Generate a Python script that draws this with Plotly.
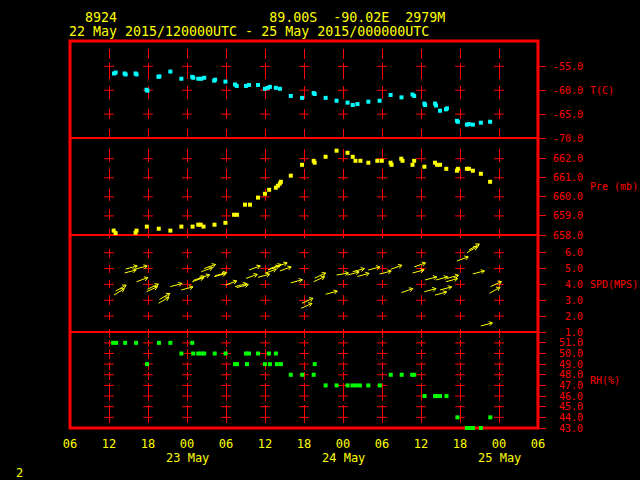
import math
import plotly.graph_objects as go

# ---------------- data (time = hours since 22 May 2015 00 UTC) ----------------
t_T = [12.77, 13.03, 14.40, 14.56, 16.09, 16.24, 17.77, 17.92, 19.61, 19.76, 21.44, 23.13,
       24.81, 24.96, 25.73, 26.19, 26.65, 28.18, 28.33, 29.91, 31.39, 31.65, 33.08, 33.54,
       34.92, 35.99, 36.45, 36.76, 37.67, 38.29, 39.97, 41.70, 43.49, 43.65, 45.33, 47.01,
       48.70, 49.50, 50.22, 51.90, 53.63, 55.32, 57.00, 58.69, 58.95, 60.52, 60.63, 62.16,
       62.31, 62.93, 63.84, 64.00, 65.53, 65.68, 67.06, 67.37, 67.98, 69.21, 70.63]
temp_C = [-56.5, -56.3, -56.5, -56.7, -56.5, -56.7, -59.9, -60.1, -57.2, -57.1, -56.1, -57.6,
          -57.2, -57.4, -57.6, -57.6, -57.4, -58.0, -57.8, -58.2, -58.8, -59.1, -59.1, -58.9,
          -58.9, -59.7, -59.5, -59.3, -59.5, -59.7, -61.2, -61.6, -60.6, -60.8, -61.6, -62.2,
          -62.6, -63.1, -62.9, -62.4, -62.2, -61.0, -61.5, -60.9, -61.2, -62.8, -63.1, -62.8,
          -63.2, -64.3, -64.0, -63.8, -66.4, -66.6, -67.2, -67.1, -67.2, -66.8, -66.6]

t_P = [12.72, 13.01, 14.45, 16.09, 16.24, 17.82, 19.65, 21.44, 23.13, 24.86, 25.73, 26.11,
       26.54, 28.23, 29.91, 31.24, 31.70, 32.92, 33.69, 34.92, 35.99, 36.64, 37.67, 37.98,
       38.28, 38.44, 39.97, 41.70, 43.49, 43.64, 45.32, 47.01, 48.70, 49.50, 49.92, 50.68,
       51.90, 53.28, 53.97, 55.32, 55.47, 56.96, 57.16, 58.69, 58.95, 60.52, 62.16, 62.47,
       62.93, 63.89, 65.53, 65.68, 67.06, 67.37, 67.98, 69.21, 70.63]
pres_mb = [658.23, 658.10, 657.96, 658.12, 658.23, 658.44, 658.33, 658.23, 658.44, 658.44,
           658.54, 658.54, 658.44, 658.54, 658.64, 659.06, 659.06, 659.59, 659.59, 659.96,
           660.16, 660.37, 660.48, 660.58, 660.69, 660.79, 661.11, 661.68, 661.89, 661.79,
           662.10, 662.42, 662.31, 662.10, 661.89, 661.89, 661.79, 661.89, 661.89, 661.79,
           661.68, 662.00, 661.89, 661.68, 661.89, 661.58, 661.79, 661.68, 661.68, 661.47,
           661.37, 661.47, 661.47, 661.47, 661.37, 661.21, 660.79]

t_W = [12.77, 13.03, 14.40, 14.56, 16.09, 16.24, 17.77, 17.92, 19.61, 19.76, 21.44, 23.13,
       24.81, 24.96, 25.73, 26.19, 26.65, 28.18, 28.33, 29.91, 31.39, 31.65, 33.08, 33.54,
       34.92, 35.99, 36.45, 36.76, 37.67, 38.29, 39.97, 41.55, 41.70, 43.49, 43.65, 45.33,
       47.01, 48.70, 49.50, 50.22, 51.90, 53.63, 55.32, 57.00, 58.69, 58.95, 60.52, 60.63,
       62.16, 62.31, 62.93, 63.84, 64.00, 65.53, 67.06, 67.37, 67.98, 69.21, 70.55, 70.70]
spd_mps = [3.33, 3.58, 4.72, 4.97, 4.97, 4.17, 3.54, 3.70, 2.81, 3.05, 3.86, 3.65,
           4.17, 4.25, 4.35, 4.80, 5.00, 4.49, 4.55, 3.96, 3.86, 3.80, 4.38, 4.91,
           4.45, 4.70, 4.91, 5.00, 5.10, 4.85, 4.10, 2.49, 2.81, 4.17, 4.40, 3.38,
           4.59, 4.59, 4.80, 4.50, 4.91, 4.65, 4.95, 3.48, 4.72, 5.10, 3.54, 4.28,
           3.33, 4.28, 3.65, 4.17, 4.38, 5.48, 6.00, 6.17, 4.66, 1.38, 3.44, 3.86]
wdir_deg = [238, 240, 255, 255, 255, 250, 245, 245, 240, 240, 255, 255,
            250, 250, 250, 250, 250, 255, 255, 250, 255, 255, 250, 250,
            255, 250, 250, 250, 250, 250, 255, 245, 245, 245, 245, 255,
            260, 255, 255, 255, 255, 255, 250, 250, 255, 250, 255, 255,
            255, 255, 255, 255, 255, 250, 240, 240, 255, 255, 240, 245]

t_RH = [12.64, 13.10, 14.48, 16.16, 17.85, 19.68, 21.44, 23.13, 24.81, 24.96, 25.73, 26.19,
        26.65, 28.26, 29.94, 31.39, 31.70, 33.08, 33.23, 33.54, 34.92, 35.99, 36.60, 36.76,
        37.67, 37.83, 38.44, 39.97, 41.73, 43.49, 43.65, 45.33, 47.01, 48.70, 49.45, 49.99,
        50.60, 51.90, 53.66, 55.35, 57.03, 58.64, 58.95, 60.55, 62.16, 62.47, 62.93, 63.92,
        65.61, 67.06, 67.37, 67.98, 69.21, 70.66]
rh_pct = [51, 51, 51, 51, 49, 51, 51, 50, 51, 50, 50, 50,
          50, 50, 50, 49, 49, 50, 49, 50, 50, 49, 50, 49,
          50, 49, 49, 48, 48, 48, 49, 47, 47, 47, 47, 47,
          47, 47, 47, 48, 48, 48, 48, 46, 46, 46, 46, 46,
          44, 43, 43, 43, 43, 44]

x_ticks = [6, 12, 18, 24, 30, 36, 42, 48, 54, 60, 66, 72, 78]
x_ticklabels = ["06", "12", "18", "00", "06", "12", "18", "00", "06", "12", "18", "00", "06"]
date_ticks = [24, 48, 72]
date_labels = ["23 May", "24 May", "25 May"]
T_ticks = [-70, -65, -60, -55]
P_ticks = [658, 659, 660, 661, 662]
S_ticks = [1, 2, 3, 4, 5, 6]
RH_ticks = [43, 44, 45, 46, 47, 48, 49, 50, 51]

station = "8924"
location = ["89.00S", "-90.02E", "2979M"]
period = "22 May 2015/120000UTC - 25 May 2015/000000UTC"

# ---------------- layout geometry ----------------
W, H = 640, 480
ML, MR, MT, MB = 70, 102, 41, 52
PW, PH = W - ML - MR, H - MT - MB
edges_px = [41, 138, 235, 332, 428]


def pyp(q):
    return (MT + PH - q) / PH


def pxp(p):
    return (p - ML) / PW


dom = [[pyp(edges_px[i + 1]), pyp(edges_px[i])] for i in range(4)]
ranges = [[-70, -49.7], [658, 663.085], [1, 7.116], [43, 52.02]]
X_RANGE = [6, 78]

RED = "#FF0000"
YEL = "#FFFF00"
CYAN = "#00FFFF"
GRN = "#00FF00"
MONO = "DejaVu Sans Mono"
NB = "\u00a0"

griddash = [
    "0px,8px,10px,4px,16px,7px,13px,10px,10px,10px,9px,50px",
    "0px,11px,13px,7px,11px,9px,12px,8px,11px,9px,6px,50px",
    "3px,11px,9px,7px,8px,7px,8px,7px,10px,7px,8px,9px,3px,50px",
    "6px,2px,7px,2px,10px,3px,8px,2px,8px,3px,18px,4px,18px,50px",
]

fig = go.Figure()

# grid crosses
inner_ticks = [T_ticks[1:], P_ticks[1:], S_ticks[1:], RH_ticks[1:]]
grid_x = [g for g in x_ticks if X_RANGE[0] < g < X_RANGE[1]]
for i, ticks in enumerate(inner_ticks):
    sfx = "" if i == 0 else str(i + 1)
    fig.add_trace(go.Scatter(
        x=[g for g in grid_x for v in ticks], y=[v for g in grid_x for v in ticks],
        mode="markers", xaxis="x" + sfx, yaxis="y" + sfx, hoverinfo="skip",
        marker=dict(symbol="line-ew", size=7, color=RED, line=dict(color=RED, width=1)),
        cliponaxis=False))

# temperature
fig.add_trace(go.Scatter(x=t_T, y=temp_C, mode="markers", xaxis="x", yaxis="y",
                         marker=dict(symbol="square", size=4, color=CYAN, line=dict(width=0)),
                         cliponaxis=False))
# pressure
fig.add_trace(go.Scatter(x=t_P, y=pres_mb, mode="markers", xaxis="x2", yaxis="y2",
                         marker=dict(symbol="square", size=4, color=YEL, line=dict(width=0)),
                         cliponaxis=False))

# wind arrows (tail at observation)
px_per_h = PW / (X_RANGE[1] - X_RANGE[0])
px_per_s = (edges_px[3] - edges_px[2]) / (ranges[2][1] - ranges[2][0])
L_ARR, L_BARB, BARB_ANG = 12.0, 4.0, math.radians(32)
ax_, ay_ = [], []
for t, s, d in zip(t_W, spd_mps, wdir_deg):
    toward = math.radians((d + 180) % 360)
    dxp, dyp = L_ARR * math.sin(toward), L_ARR * math.cos(toward)
    hx, hy = t + dxp / px_per_h, s + dyp / px_per_s
    ax_ += [t, hx, None]
    ay_ += [s, hy, None]
    back = math.atan2(-dyp, -dxp)
    for sgn in (1, -1):
        a = back + sgn * BARB_ANG
        ax_ += [hx, hx + L_BARB * math.cos(a) / px_per_h, None]
        ay_ += [hy, hy + L_BARB * math.sin(a) / px_per_s, None]
fig.add_trace(go.Scatter(x=ax_, y=ay_, mode="lines", xaxis="x3", yaxis="y3",
                         line=dict(color=YEL, width=1), cliponaxis=False, hoverinfo="skip"))

# relative humidity
fig.add_trace(go.Scatter(x=t_RH, y=rh_pct, mode="markers", xaxis="x4", yaxis="y4",
                         marker=dict(symbol="square", size=4, color=GRN, line=dict(width=0)),
                         cliponaxis=False))

# ---------------- axes ----------------
layout_axes = {}
ytick_sets = [T_ticks, P_ticks, S_ticks, RH_ticks]
for i in range(4):
    sfx = "" if i == 0 else str(i + 1)
    xa = dict(range=X_RANGE, domain=[0, 1], anchor="y" + sfx, showgrid=True, gridcolor=RED,
              gridwidth=1, griddash=griddash[i], zeroline=False, showline=False, ticks="",
              tickvals=x_ticks, showticklabels=False, fixedrange=True)
    if i > 0:
        xa["matches"] = "x"
    if i == 3:
        xa.update(showticklabels=True, ticktext=x_ticklabels, ticklabelstandoff=7,
                  tickfont=dict(family=MONO, size=12, color=YEL))
    layout_axes["xaxis" + sfx] = xa
    layout_axes["yaxis" + sfx] = dict(
        domain=dom[i], range=ranges[i], anchor="x" + sfx, side="right",
        tickvals=ytick_sets[i], ticktext=[f"{v:.1f}".rjust(5, NB) for v in ytick_sets[i]],
        ticks="outside", ticklen=7, tickwidth=1, tickcolor=RED, ticklabelstandoff=5,
        tickfont=dict(family=MONO, size=10, color=RED), showgrid=False, zeroline=False,
        showline=False, fixedrange=True)

# ---------------- annotations ----------------
ann = []
line1 = NB * 2 + station + NB * 19 + (NB * 2).join(location)
ann.append(dict(text=line1, x=pxp(67), y=pyp(18), xref="paper", yref="paper",
                xanchor="left", yanchor="middle", showarrow=False,
                font=dict(family=MONO, size=13.3, color=YEL)))
ann.append(dict(text=period.replace(" ", NB), x=pxp(67), y=pyp(32), xref="paper", yref="paper",
                xanchor="left", yanchor="middle", showarrow=False,
                font=dict(family=MONO, size=13.3, color=YEL)))
for t, lab in zip(date_ticks, date_labels):
    ann.append(dict(text=lab.replace(" ", NB), x=t, y=pyp(458), xref="x4", yref="paper",
                    xanchor="center", yanchor="middle", showarrow=False,
                    font=dict(family=MONO, size=12, color=YEL)))
ann.append(dict(text="2", x=pxp(19), y=pyp(473), xref="paper", yref="paper",
                xanchor="center", yanchor="middle", showarrow=False,
                font=dict(family=MONO, size=12, color=YEL)))
titles = [("T(C)", "y", -60.0), ("Pre (mb)", "y2", 660.53), ("SPD(MPS)", "y3", 4.0),
          ("RH(%)", "y4", 47.5)]
for txt, yr, yv in titles:
    ann.append(dict(text=txt.replace(" ", NB), x=pxp(588), y=yv, xref="paper", yref=yr,
                    xanchor="left", yanchor="middle", showarrow=False,
                    font=dict(family=MONO, size=10, color=RED)))

# ---------------- frame ----------------
shapes = [dict(type="rect", xref="paper", yref="paper", x0=0, x1=1, y0=0, y1=1,
               line=dict(color=RED, width=3), layer="below")]
for yb in (dom[0][0], dom[1][0], dom[2][0]):
    shapes.append(dict(type="line", xref="paper", yref="paper", x0=0, x1=1, y0=yb, y1=yb,
                       line=dict(color=RED, width=2), layer="below"))

fig.update_layout(
    width=W, height=H, margin=dict(l=ML, r=MR, t=MT, b=MB, pad=0),
    paper_bgcolor="black", plot_bgcolor="rgba(0,0,0,0)", showlegend=False,
    annotations=ann, shapes=shapes, **layout_axes)

fig.write_html("out.html", config={"displayModeBar": False})

# remove the default page margin so the figure sits at the window's top-left corner
with open("out.html", "r", encoding="utf-8") as fh:
    html = fh.read()
html = html.replace("<head>", "<head><style>html,body{margin:0;padding:0;background:#000;}</style>", 1)
with open("out.html", "w", encoding="utf-8") as fh:
    fh.write(html)
